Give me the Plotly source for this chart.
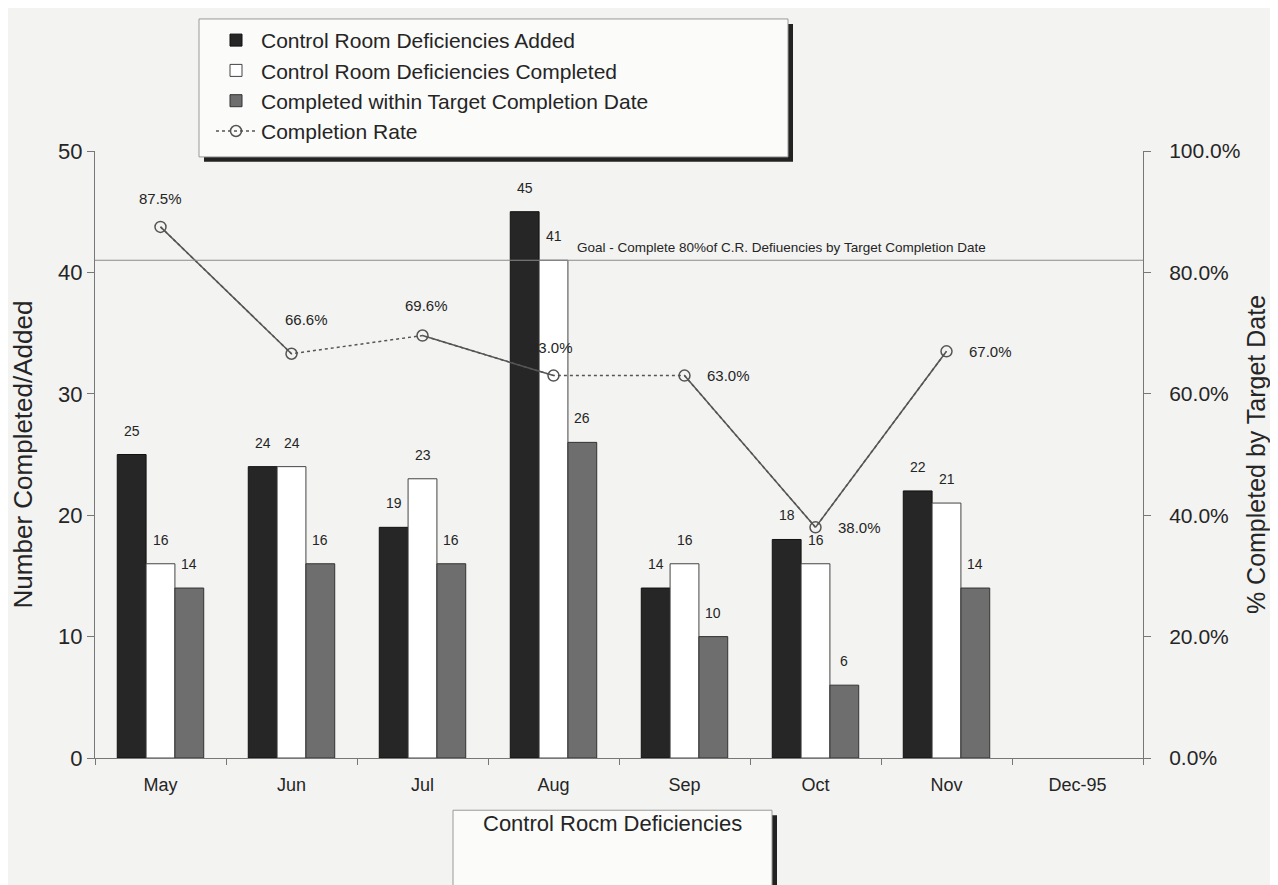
import plotly.graph_objects as go

# ---------------- data ----------------
months = ["May", "Jun", "Jul", "Aug", "Sep", "Oct", "Nov", "Dec-95"]
added = [25, 24, 19, 45, 14, 18, 22, None]
completed = [16, 24, 23, 41, 16, 16, 21, None]
within_target = [14, 16, 16, 26, 10, 6, 14, None]
completion_rate = [87.5, 66.6, 69.6, 63.0, 63.0, 38.0, 67.0, None]
goal_level = 41
left_ticks = [0, 10, 20, 30, 40, 50]
right_ticks = [0, 20, 40, 60, 80, 100]

# ---------------- styles ----------------
segment_dash = ["solid", "dot", "solid", "dot", "solid", "solid"]
# (xshift, yshift, xanchor) for each completion-rate label
rate_label_pos = [(0, 28, "center"), (15, 34, "center"), (4, 30, "center"),
                  (-2, 28, "center"), (20, 0, "left"), (20, 0, "left"), (20, 0, "left")]

# page-pixel geometry of the plot area
L, R, T, B = 95, 1143, 142, 758
W, H = 1278, 885
OFF = 8  # page body margin
FIG_W, FIG_H = W - OFF, H - OFF


def px_x(p):
    return (p - L) / (R - L)


def px_y(p):
    return (B - p) / (B - T)


BG = "#f3f3f1"
TXT = "#252525"
FONT = "Liberation Sans, Arial, sans-serif"

fig = go.Figure()

bar_series = [
    ("Control Room Deficiencies Added", added, "#262626", "#111111"),
    ("Control Room Deficiencies Completed", completed, "#ffffff", "#444444"),
    ("Completed within Target Completion Date", within_target, "#6e6e6e", "#333333"),
]
for name, vals, fill, edge in bar_series:
    fig.add_trace(go.Bar(
        x=months, y=vals, name=name,
        marker=dict(color=fill, line=dict(color=edge, width=1)),
        yaxis="y",
    ))

# completion rate: dotted base line with markers (legend entry)
fig.add_trace(go.Scatter(
    x=months, y=completion_rate, name="Completion Rate", yaxis="y2",
    mode="lines+markers",
    line=dict(color="#555555", width=1.5, dash="dot"),
    marker=dict(symbol="circle-open", size=11, color="#555555", line=dict(width=1.5)),
))
# solid segments drawn over the dotted base
for i, dash in enumerate(segment_dash):
    if dash == "solid":
        fig.add_trace(go.Scatter(
            x=months[i:i + 2], y=completion_rate[i:i + 2], yaxis="y2",
            mode="lines", showlegend=False, hoverinfo="skip",
            line=dict(color="#555555", width=1.5),
        ))

annotations = []
# bar value labels
cat_w = (R - L) / len(months)
bar_w = cat_w * (1 - 0.34) / 3
for k, (name, vals, fill, edge) in enumerate(bar_series):
    for m, v in zip(months, vals):
        if v is None:
            continue
        annotations.append(dict(
            x=m, y=v, xref="x", yref="y", text=str(v), showarrow=False,
            xshift=(k - 1) * bar_w, yshift=24,
            font=dict(size=14, color=TXT, family=FONT),
        ))
# rate labels
for m, v, (dx, dy, xa) in zip(months, completion_rate, rate_label_pos):
    if v is None:
        continue
    annotations.append(dict(
        x=m, y=v, xref="x", yref="y2", text=f"{v:.1f}%", showarrow=False,
        xshift=dx, yshift=dy, xanchor=xa,
        font=dict(size=15, color=TXT, family=FONT),
    ))
# goal text
annotations.append(dict(
    x=px_x(575), y=goal_level, xref="paper", yref="y", xanchor="left",
    yshift=13, showarrow=False,
    text="Goal - Complete 80%of C.R. Defiuencies by Target Completion Date",
    font=dict(size=13.5, color=TXT, family=FONT),
))
# x-axis title (boxed)
annotations.append(dict(
    x=px_x(612), y=px_y(839), xref="paper", yref="paper", showarrow=False,
    text="Control Rocm Deficiencies",
    font=dict(size=22, color=TXT, family=FONT),
))

shapes = [
    # goal line
    dict(type="line", xref="paper", yref="y", x0=0, x1=1, y0=goal_level, y1=goal_level,
         line=dict(color="#8a8a8a", width=1)),
    # legend box shadow + box
    dict(type="rect", xref="paper", yref="paper", x0=px_x(204), x1=px_x(793),
         y0=px_y(153), y1=px_y(13), fillcolor="#222222", line=dict(width=0), layer="above"),
    dict(type="rect", xref="paper", yref="paper", x0=px_x(199), x1=px_x(788),
         y0=px_y(148), y1=px_y(8), fillcolor="#fbfbfa", line=dict(color="#999999", width=1),
         layer="above"),
    # x-title box shadow + box
    dict(type="rect", xref="paper", yref="paper", x0=px_x(457), x1=px_x(777),
         y0=px_y(900), y1=px_y(816), fillcolor="#222222", line=dict(width=0), layer="above"),
    dict(type="rect", xref="paper", yref="paper", x0=px_x(453), x1=px_x(772),
         y0=px_y(898), y1=px_y(811), fillcolor="#fbfbfa", line=dict(color="#999999", width=1),
         layer="above"),
]

fig.update_layout(
    width=FIG_W, height=FIG_H,
    margin=dict(l=L - OFF, r=FIG_W + OFF - R, t=T - OFF, b=FIG_H + OFF - B),
    paper_bgcolor=BG, plot_bgcolor=BG,
    barmode="group", bargap=0.34, bargroupgap=0,
    font=dict(family=FONT, color=TXT),
    showlegend=True,
    legend=dict(
        x=px_x(211), y=px_y(9), xanchor="left", yanchor="top",
        bgcolor="rgba(0,0,0,0)", borderwidth=0,
        font=dict(size=21, color=TXT, family=FONT),
        itemwidth=40, tracegroupgap=0, traceorder="normal",
    ),
    xaxis=dict(
        showline=True, linecolor="#777777", linewidth=1,
        ticks="outside", tickson="boundaries", ticklen=6, tickcolor="#777777",
        tickfont=dict(size=18, color=TXT), showgrid=False, zeroline=False,
        ticklabelstandoff=10,
        range=[-0.5, len(months) - 0.5],
    ),
    yaxis=dict(
        range=[0, 50], tickvals=left_ticks, showline=True, linecolor="#777777",
        ticks="outside", ticklen=7, tickcolor="#777777", showgrid=False, zeroline=False,
        tickfont=dict(size=22, color=TXT),
        title=dict(text="Number Completed/Added", font=dict(size=26, color=TXT), standoff=18),
    ),
    yaxis2=dict(
        range=[0, 100], tickvals=right_ticks,
        ticktext=[f"{v:.1f}%" for v in right_ticks],
        overlaying="y", side="right",
        showline=True, linecolor="#777777", ticks="outside", ticklen=7, tickcolor="#777777",
        showgrid=False, zeroline=False, ticklabelstandoff=14,
        tickfont=dict(size=21, color=TXT),
        title=dict(text="% Completed by Target Date", font=dict(size=25, color=TXT), standoff=8),
    ),
    annotations=annotations,
    shapes=shapes,
)

fig.write_html("out.html")
